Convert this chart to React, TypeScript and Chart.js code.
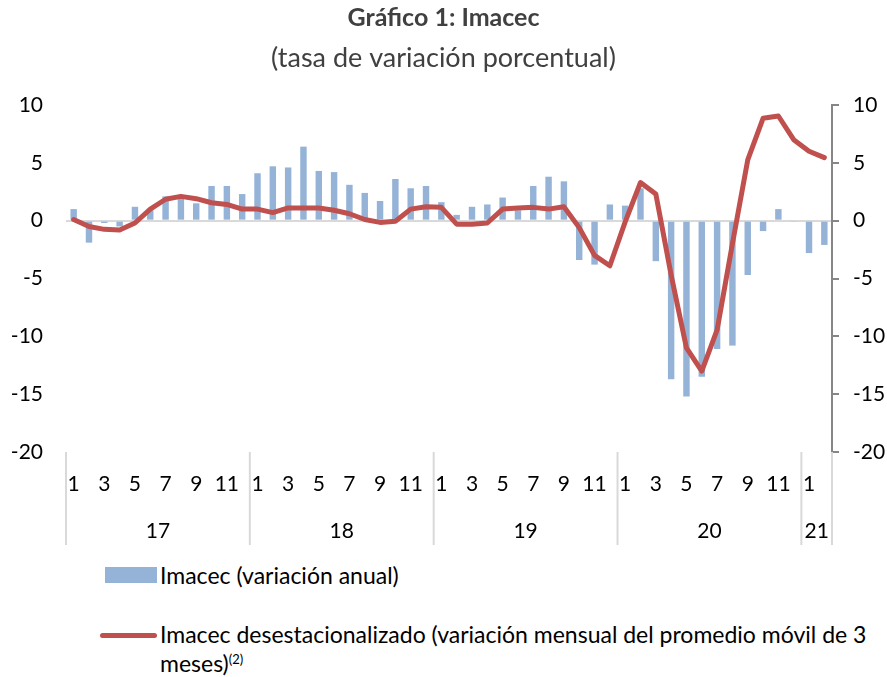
import React, { useEffect, useRef } from "react";
import { Chart, registerables } from "chart.js";

Chart.register(...registerables);

const YEARS = ["17", "18", "19", "20", "21"];
const MONTHS_PER_YEAR = [12, 12, 12, 12, 2];

const IMACEC_ANUAL = [
  1.0, -1.9, -0.2, -0.5, 1.2, 0.9, 2.1, 2.0, 1.5, 3.0, 3.0, 2.3,
  4.1, 4.7, 4.6, 6.4, 4.3, 4.2, 3.1, 2.4, 1.7, 3.6, 2.8, 3.0,
  1.6, 0.5, 1.2, 1.4, 2.0, 0.9, 3.0, 3.8, 3.4, -3.4, -3.8, 1.4,
  1.3, 2.8, -3.5, -13.7, -15.2, -13.5, -11.1, -10.8, -4.7, -0.9, 1.0, -0.1,
  -2.8, -2.1,
];

const IMACEC_DESEST = [
  0.1, -0.5, -0.75, -0.8, -0.2, 1.0, 1.85, 2.1, 1.9, 1.55, 1.4, 1.0,
  1.0, 0.7, 1.1, 1.1, 1.1, 0.9, 0.6, 0.1, -0.15, -0.05, 1.0, 1.2,
  1.15, -0.3, -0.3, -0.2, 1.0, 1.1, 1.15, 1.0, 1.2, -0.6, -3.0, -3.9,
  -0.1, 3.3, 2.3, -4.7, -11.0, -13.0, -9.45, -2.0, 5.25, 8.85, 9.05, 7.0,
  6.0, 5.45,
];

const Y_MIN = -20;
const Y_MAX = 10;
const Y_STEP = 5;

const LABELS: string[] = [];
YEARS.forEach((y, yi) => {
  for (let m = 1; m <= MONTHS_PER_YEAR[yi]; m++) LABELS.push(String(m));
});

const FONT = "Lato, 'Open Sans', sans-serif";

const yearGroupsPlugin = {
  id: "yearGroups",
  afterDraw(chart: any) {
    const ctx = chart.ctx;
    const xs = chart.scales.x;
    const area = chart.chartArea;
    const n = LABELS.length;
    const w = (area.right - area.left) / n;
    ctx.save();
    ctx.strokeStyle = "#D9D9D9";
    ctx.lineWidth = 2;
    ctx.fillStyle = "#000";
    ctx.font = `21px ${FONT}`;
    ctx.textAlign = "center";
    ctx.textBaseline = "middle";
    let start = 0;
    const top = area.bottom;
    const bottom = area.bottom + 93;
    YEARS.forEach((y, yi) => {
      const end = start + MONTHS_PER_YEAR[yi] - 1;
      const left = xs.getPixelForValue(start) - w / 2;
      const right = xs.getPixelForValue(end) + w / 2;
      ctx.beginPath();
      ctx.moveTo(left, top);
      ctx.lineTo(left, bottom);
      ctx.stroke();
      if (yi === YEARS.length - 1) {
        ctx.beginPath();
        ctx.moveTo(right, top);
        ctx.lineTo(right, bottom);
        ctx.stroke();
      }
      ctx.fillText(y, (left + right) / 2, area.bottom + 79);
      start = end + 1;
    });
    ctx.restore();
  },
};

export default function App() {
  const ref = useRef<HTMLCanvasElement>(null);

  useEffect(() => {
    if (!ref.current) return;
    const chart = new Chart(ref.current, {
      data: {
        labels: LABELS,
        datasets: [
          {
            type: "line",
            label: "Imacec desestacionalizado",
            data: IMACEC_DESEST,
            borderColor: "#C0504D",
            backgroundColor: "#C0504D",
            borderWidth: 5,
            pointRadius: 0,
            tension: 0,
            borderJoinStyle: "round",
            borderCapStyle: "round",
            order: 0,
            yAxisID: "y",
          } as any,
          {
            type: "bar",
            label: "Imacec (variación anual)",
            data: IMACEC_ANUAL,
            backgroundColor: "#95B3D7",
            barPercentage: 0.42,
            categoryPercentage: 1,
            order: 1,
            yAxisID: "y",
          } as any,
        ],
      },
      options: {
        animation: false,
        responsive: false,
        maintainAspectRatio: false,
        layout: { padding: { top: 0, left: 0, right: 0, bottom: 0 } },
        plugins: {
          legend: { display: false },
          tooltip: { enabled: false },
          title: {
            display: true,
            text: "Gráfico 1: Imacec",
            color: "#404040",
            font: { family: FONT, size: 25, weight: "bold", lineHeight: 1.2 },
            padding: { top: 3, bottom: 4 },
          },
          subtitle: {
            display: true,
            text: "(tasa de variación porcentual)",
            color: "#404040",
            font: { family: FONT, size: 27, lineHeight: 1.2 },
            padding: { top: 5, bottom: 30.6 },
          },
        },
        scales: {
          x: {
            type: "category",
            offset: true,
            grid: { display: false, drawTicks: false },
            border: { display: false },
            ticks: {
              autoSkip: false,
              maxRotation: 0,
              minRotation: 0,
              padding: 20,
              color: "#000",
              font: { family: FONT, size: 21 },
              callback: function (this: any, _v: any, i: number) {
                const l = LABELS[i];
                return Number(l) % 2 === 1 ? l : "";
              },
            },
            afterFit: (s: any) => {
              s.height = 100;
            },
          },
          y: {
            position: "left",
            min: Y_MIN,
            max: Y_MAX,
            ticks: {
              stepSize: Y_STEP,
              padding: 23,
              color: "#000",
              font: { family: FONT, size: 21 },
            },
            border: { display: false },
            grid: {
              drawTicks: false,
              color: (c: any) => (c.tick && c.tick.value === 0 ? "#D9D9D9" : "rgba(0,0,0,0)"),
              lineWidth: 2,
            },
            afterFit: (s: any) => {
              s.width = 66;
            },
          },
          y2: {
            position: "right",
            min: Y_MIN,
            max: Y_MAX,
            ticks: {
              stepSize: Y_STEP,
              padding: 14,
              color: "#000",
              font: { family: FONT, size: 21 },
            },
            border: { display: true, color: "#868686", width: 2 },
            grid: {
              drawOnChartArea: false,
              drawTicks: true,
              tickLength: 7,
              color: "#868686",
              lineWidth: 2,
            },
            afterFit: (s: any) => {
              s.width = 55;
            },
          },
        },
      } as any,
      plugins: [yearGroupsPlugin],
    });
    return () => chart.destroy();
  }, []);

  return (
    <div
      style={{
        position: "fixed",
        left: 0,
        top: 0,
        width: 887,
        height: 677,
        background: "#fff",
        fontFamily: FONT,
      }}
    >
      <canvas ref={ref} width={887} height={552} style={{ position: "absolute", left: 0, top: 0, width: 887, height: 552 }} />
      <div style={{ position: "absolute", left: 105, top: 567, width: 52, height: 16, background: "#95B3D7" }} />
      <div
        style={{
          position: "absolute",
          left: 160,
          top: 561,
          fontSize: 23,
          lineHeight: "28px",
          color: "#000",
          whiteSpace: "nowrap",
        }}
      >
        Imacec (variación anual)
      </div>
      <div
        style={{
          position: "absolute",
          left: 100,
          top: 633,
          width: 57,
          height: 5,
          borderRadius: 3,
          background: "#C0504D",
        }}
      />
      <div
        style={{
          position: "absolute",
          left: 160,
          top: 622,
          fontSize: 23,
          lineHeight: "25px",
          color: "#000",
          whiteSpace: "nowrap",
        }}
      >
        Imacec desestacionalizado (variación mensual del promedio móvil de 3
        <br />
        meses)<sup style={{ fontSize: 13, verticalAlign: "8px" }}>(2)</sup>
      </div>
    </div>
  );
}
